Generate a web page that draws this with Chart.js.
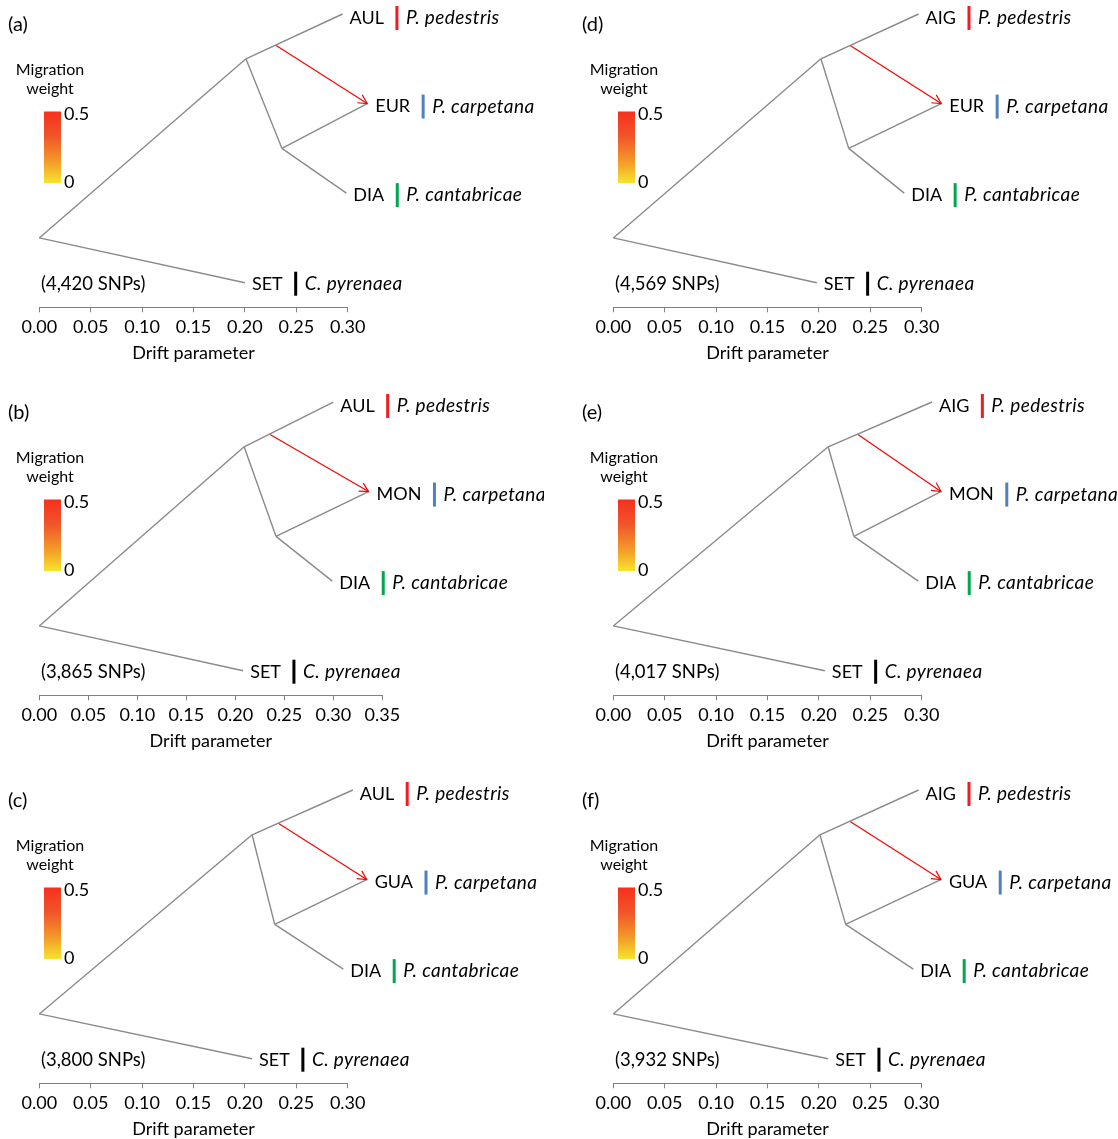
<!DOCTYPE html>
<html><head><meta charset="utf-8">
<script src="https://cdn.jsdelivr.net/npm/chart.js@4.4.1/dist/chart.umd.min.js"></script>
<style>
html,body{margin:0;padding:0;background:#fff;overflow:hidden;width:1118px;height:1139px}
.panel{position:absolute;width:544px;height:366px}
canvas{display:block}
</style></head><body>
<div class="panel" style="left:0;top:0"><canvas id="c0" width="544" height="366"></canvas></div>
<div class="panel" style="left:0;top:388px"><canvas id="c1" width="544" height="366"></canvas></div>
<div class="panel" style="left:0;top:776px"><canvas id="c2" width="544" height="366"></canvas></div>
<div class="panel" style="left:574px;top:0"><canvas id="c3" width="544" height="366"></canvas></div>
<div class="panel" style="left:574px;top:388px"><canvas id="c4" width="544" height="366"></canvas></div>
<div class="panel" style="left:574px;top:776px"><canvas id="c5" width="544" height="366"></canvas></div>
<script>
// ---------- data ----------
const panelLetters = ['(a)', '(b)', '(c)', '(d)', '(e)', '(f)'];
const snpCounts = ['(4,420 SNPs)', '(3,865 SNPs)', '(3,800 SNPs)', '(4,569 SNPs)', '(4,017 SNPs)', '(3,932 SNPs)'];
const pop1Names = ['AUL', 'AUL', 'AUL', 'AIG', 'AIG', 'AIG'];
const pop2Names = ['EUR', 'MON', 'GUA', 'EUR', 'MON', 'GUA'];
const pop3Names = ['DIA', 'DIA', 'DIA', 'DIA', 'DIA', 'DIA'];
const outgroupNames = ['SET', 'SET', 'SET', 'SET', 'SET', 'SET'];
const speciesNames = ['P. pedestris', 'P. carpetana', 'P. cantabricae', 'C. pyrenaea'];
const xAxisMax = [0.30, 0.35, 0.30, 0.30, 0.30, 0.30];
const xTickStep = 0.05;
const xAxisTitle = 'Drift parameter';
const legendTitle = ['Migration', 'weight'];
const legendTicks = ['0.5', '0'];

// drift (x) positions of nodes, one value per panel
const rootX     = [0, 0, 0, 0, 0, 0];
const nodeAX    = [0.201, 0.209, 0.207, 0.202, 0.209, 0.201];
const nodeBX    = [0.236, 0.2415, 0.229, 0.229, 0.234, 0.226];
const pop1X     = [0.295, 0.300, 0.305, 0.297, 0.310, 0.297];
const pop2X     = [0.319, 0.336, 0.3185, 0.319, 0.3187, 0.3187];
const pop3X     = [0.2987, 0.299, 0.2957, 0.283, 0.2967, 0.2918];
const outgroupX = [0.200, 0.208, 0.207, 0.198, 0.2058, 0.209];
const migStartX = [0.230, 0.235, 0.2325, 0.230, 0.2376, 0.230];
const migStartY = [3.65, 3.64, 3.63, 3.65, 3.64, 3.65];

// vertical (tip order) positions
const pop1Y = 4, pop2Y = 3, pop3Y = 2, outgroupY = 1;
const rootY = 1.5, nodeAY = 3.5, nodeBY = 2.5;

// ---------- styles ----------
const FONT = 'Lato, "Open Sans", sans-serif';
const TREE_COLOR = '#8a8a8a';
const MIG_COLOR = '#ff0000';
const barColors = ['#ee1c24', '#4f81bd', '#00a650', '#000000'];
const labelGap = [7, 8, 7, 7];
const labelDy = [4, 3, 2, 1];

function seg(x1, y1, x2, y2, color, w) {
  return {
    data: [{x: x1, y: y1}, {x: x2, y: y2}],
    showLine: true, borderColor: color, borderWidth: w,
    pointRadius: 0, pointHoverRadius: 0, fill: false, clip: false,
    tension: 0
  };
}

function makePlugin(i) {
  return {
    id: 'treeDecor' + i,
    afterDatasetsDraw(chart) {
      const xs = chart.scales.x, ys = chart.scales.y, ctx = chart.ctx;
      ctx.save();
      // arrow head of migration edge
      const sx = xs.getPixelForValue(migStartX[i]), sy = ys.getPixelForValue(migStartY[i]);
      const ex = xs.getPixelForValue(pop2X[i]), ey = ys.getPixelForValue(pop2Y);
      const ang = Math.atan2(ey - sy, ex - sx);
      const L = 10, a = Math.PI / 6.5;
      ctx.strokeStyle = MIG_COLOR; ctx.lineWidth = 1.2;
      ctx.beginPath();
      ctx.moveTo(ex - L * Math.cos(ang - a), ey - L * Math.sin(ang - a));
      ctx.lineTo(ex, ey);
      ctx.lineTo(ex - L * Math.cos(ang + a), ey - L * Math.sin(ang + a));
      ctx.stroke();

      // tip labels
      const leaves = [
        [pop1X[i], pop1Y, pop1Names[i], 0],
        [pop2X[i], pop2Y, pop2Names[i], 1],
        [pop3X[i], pop3Y, pop3Names[i], 2],
        [outgroupX[i], outgroupY, outgroupNames[i], 3]
      ];
      ctx.textBaseline = 'middle'; ctx.textAlign = 'left';
      leaves.forEach(([x, y, name, k]) => {
        const px = xs.getPixelForValue(x) + labelGap[k];
        const py = ys.getPixelForValue(y) + labelDy[k];
        ctx.font = '18px ' + FONT; ctx.fillStyle = '#000';
        if ('letterSpacing' in ctx) ctx.letterSpacing = '0px';
        ctx.fillText(name, px, py);
        const w = ctx.measureText(name).width;
        const bx = px + w + 13;
        ctx.fillStyle = barColors[k];
        ctx.fillRect(bx - 1.5, py - 12, 3, 24);
        ctx.font = 'italic 19px ' + FONT; ctx.fillStyle = '#000';
        if ('letterSpacing' in ctx) ctx.letterSpacing = '0.4px';
        ctx.fillText(speciesNames[k], bx + 9, py);
        if ('letterSpacing' in ctx) ctx.letterSpacing = '0px';
      });

      // panel letter
      ctx.font = '20px ' + FONT; ctx.fillStyle = '#000';
      ctx.fillText(panelLetters[i], 8, 25);
      // SNP count
      ctx.font = '18.5px ' + FONT;
      ctx.fillText(snpCounts[i], 41, ys.getPixelForValue(outgroupY) + 1);

      // migration weight legend
      ctx.font = '16px ' + FONT; ctx.textAlign = 'center';
      ctx.fillText(legendTitle[0], 50, 70);
      ctx.fillText(legendTitle[1], 50, 89);
      const g = ctx.createLinearGradient(0, 111.5, 0, 183);
      g.addColorStop(0, '#f6301e');
      g.addColorStop(0.35, '#f1552a');
      g.addColorStop(0.7, '#f39a28');
      g.addColorStop(1, '#f6e42c');
      ctx.fillStyle = g;
      ctx.fillRect(44, 111.5, 17, 71.5);
      ctx.fillStyle = '#000'; ctx.textAlign = 'left'; ctx.font = '18px ' + FONT;
      ctx.fillText(legendTicks[0], 64, 114);
      ctx.fillText(legendTicks[1], 64, 182);
      ctx.restore();
    }
  };
}

for (let i = 0; i < 6; i++) {
  const xmax = xAxisMax[i];
  const axisPx = xmax > 0.31 ? 343 : 308.4;
  const datasets = [
    seg(rootX[i], rootY, nodeAX[i], nodeAY, TREE_COLOR, 1.4),
    seg(rootX[i], rootY, outgroupX[i], outgroupY, TREE_COLOR, 1.4),
    seg(nodeAX[i], nodeAY, pop1X[i], pop1Y, TREE_COLOR, 1.4),
    seg(nodeAX[i], nodeAY, nodeBX[i], nodeBY, TREE_COLOR, 1.4),
    seg(nodeBX[i], nodeBY, pop2X[i], pop2Y, TREE_COLOR, 1.4),
    seg(nodeBX[i], nodeBY, pop3X[i], pop3Y, TREE_COLOR, 1.4),
    seg(migStartX[i], migStartY[i], pop2X[i], pop2Y, MIG_COLOR, 1.2)
  ];
  new Chart(document.getElementById('c' + i), {
    type: 'scatter',
    data: {datasets},
    plugins: [makePlugin(i)],
    options: {
      responsive: false, animation: false, maintainAspectRatio: false,
      events: [],
      layout: {padding: {left: 39.3, right: 544 - 39.3 - axisPx, top: 5, bottom: 2.5}},
      plugins: {legend: {display: false}, tooltip: {enabled: false}},
      scales: {
        x: {
          type: 'linear', position: 'bottom', min: 0, max: xmax,
          ticks: {stepSize: xTickStep, autoSkip: false, maxRotation: 0, padding: 4,
                  color: '#000', font: {family: FONT, size: 18},
                  callback: v => Number(v).toFixed(2)},
          grid: {drawOnChartArea: false, drawTicks: true, tickLength: 5, color: '#808080', lineWidth: 1},
          border: {display: true, color: '#808080', width: 1},
          title: {display: true, text: xAxisTitle, color: '#000',
                  font: {family: FONT, size: 18}, padding: {top: 0, bottom: 0}}
        },
        y: {type: 'linear', display: false, min: 0.7254, max: 4.1005}
      }
    }
  });
}
</script>
</body></html>
